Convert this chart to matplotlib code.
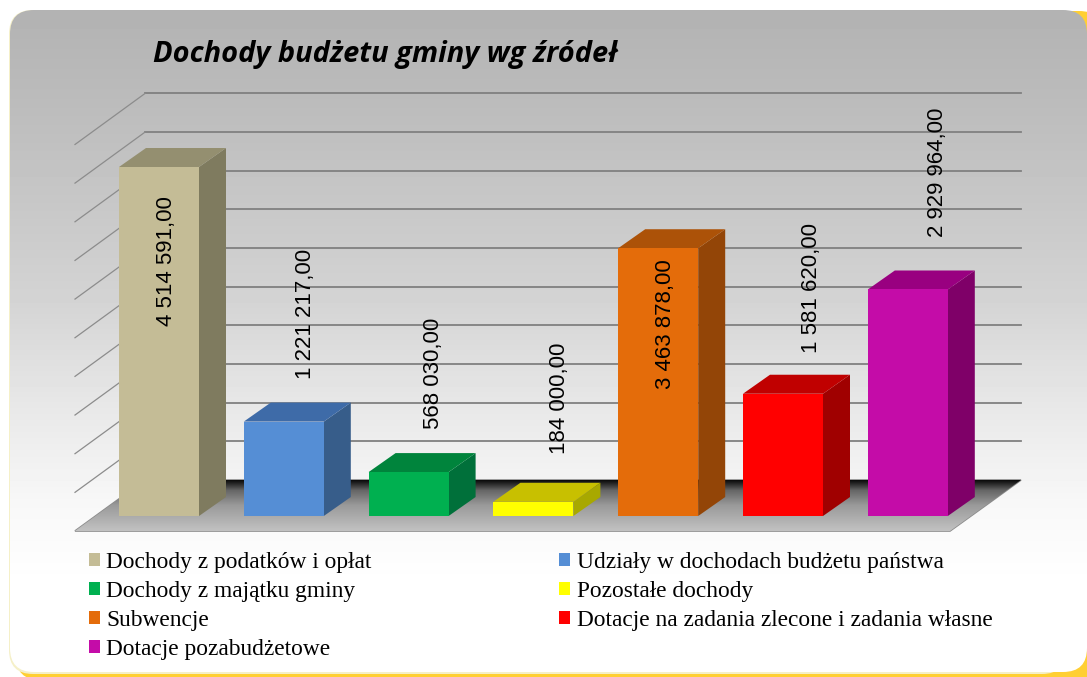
import matplotlib
matplotlib.use("Agg")
import matplotlib.pyplot as plt
from matplotlib.patches import FancyBboxPatch, Patch, Polygon
import numpy as np

# data
categories = ["Dochody z podatków i opłat", "Udziały w dochodach budżetu państwa",
              "Dochody z majątku gminy", "Pozostałe dochody", "Subwencje",
              "Dotacje na zadania zlecone i zadania własne", "Dotacje pozabudżetowe"]
values = [4514591, 1221217, 568030, 184000, 3463878, 1581620, 2929964]
value_labels = ["4 514 591,00", "1 221 217,00", "568 030,00", "184 000,00",
                "3 463 878,00", "1 581 620,00", "2 929 964,00"]
grid_values = [500000, 1000000, 1500000, 2000000, 2500000, 3000000,
               3500000, 4000000, 4500000, 5000000]
title = "Dochody budżetu gminy wg źródeł"

front_colors = ["#c4bc96", "#558ed5", "#00b050", "#ffff00", "#e46c0a", "#ff0000", "#c40ca8"]
top_colors = ["#948f70", "#3e6ba8", "#00843c", "#c8c000", "#ac5208", "#c00000", "#990080"]
side_colors = ["#7f7b5f", "#375d8a", "#00703a", "#a8a800", "#934507", "#a00000", "#7f0068"]

W, H = 1087, 677
PX_PER_UNIT = 349 / 4514591
SLOT = 124.8
FIRST_CENTER = 159
BASE_Y = 516

fig = plt.figure(figsize=(W / 100, H / 100), dpi=100)
fig.patch.set_facecolor("white")

# card and floor live in a pixel axes underneath
bg = fig.add_axes([0, 0, 1, 1])
bg.set_xlim(0, W)
bg.set_ylim(H, 0)
bg.axis("off")

edge = FancyBboxPatch((16, 11), W, H - 8, boxstyle="round,pad=0,rounding_size=24",
                      fc="#ffcf33", ec="none", zorder=1)
bg.add_patch(edge)
beige = FancyBboxPatch((9, 10), W - 30, H - 13, boxstyle="round,pad=0,rounding_size=24",
                       fc="#f5f0c8", ec="none", zorder=1.5)
bg.add_patch(beige)
card = FancyBboxPatch((10, 10), W - 10, H - 15, boxstyle="round,pad=0,rounding_size=24",
                      fc="none", ec="none", zorder=2)
bg.add_patch(card)
stops_y = [10, 100, 200, 300, 400, 500, 585, 677]
stops_v = [0.70, 0.735, 0.78, 0.83, 0.905, 0.97, 1.0, 1.0]
ramp = np.interp(np.arange(H), stops_y, stops_v).reshape(-1, 1)
im = bg.imshow(ramp, cmap="gray", vmin=0, vmax=1, extent=(0, W, H, 0), aspect="auto", zorder=2)
im.set_clip_path(card)

floor = Polygon([(75, 531), (950, 531), (1021, 480), (145, 480)], closed=True,
                fc="none", ec="#8c8c8c", lw=1.2, zorder=3)
bg.add_patch(floor)
floor_ramp = np.interp(np.arange(480, 532), [480, 483, 490, 505, 531], [0.05, 0.15, 0.4, 0.6, 0.76]).reshape(-1, 1)
fim = bg.imshow(floor_ramp, cmap="gray", vmin=0, vmax=1, extent=(0, W, 531, 480), aspect="auto", zorder=3)
fim.set_clip_path(floor)
bg.set_xlim(0, W)
bg.set_ylim(H, 0)

# main axes: x is category index, y is the value
ax = fig.add_axes([0, 0, 1, 1])
ax.patch.set_alpha(0)
ax.set_xlim(-FIRST_CENTER / SLOT, (W - FIRST_CENTER) / SLOT)
ax.set_ylim((BASE_Y - H) / PX_PER_UNIT, BASE_Y / PX_PER_UNIT)
ax.axis("off")

x = np.arange(len(values))
bar_w = 80 / SLOT
depth_x = 27 / SLOT
depth_y = 19 / PX_PER_UNIT

# back wall and left wall grid lines
back_off = (BASE_Y - 480) / PX_PER_UNIT
front_off = (BASE_Y - 531) / PX_PER_UNIT
left_front = (75 - FIRST_CENTER) / SLOT
left_back = (145 - FIRST_CENTER) / SLOT
right_back = (1021 - FIRST_CENTER) / SLOT
for g in grid_values:
    ax.plot([left_back, right_back], [g + back_off, g + back_off],
            color="#808080", lw=1.3, zorder=1)
    ax.plot([left_front, left_back], [g + front_off, g + back_off],
            color="#8c8c8c", lw=0.9, zorder=1)

ax.bar(x, values, width=bar_w, color=front_colors, zorder=4)
for i, v in enumerate(values):
    r = x[i] + bar_w / 2
    l = x[i] - bar_w / 2
    ax.fill([r, r + depth_x, r + depth_x, r], [0, depth_y, v + depth_y, v], color=side_colors[i], lw=0, zorder=3)
    ax.fill([l, r, r + depth_x, l + depth_x], [v, v, v + depth_y, v + depth_y], color=top_colors[i], lw=0, zorder=3)

# label centres were read off the picture, they don't follow one rule
label_centers = [261, 314, 373, 398, 324, 288, 172]
label_x = [166, 306, 434, 560, 665, 812, 938]
for lx, ly, txt in zip(label_x, label_centers, value_labels):
    ax.text((lx - FIRST_CENTER) / SLOT, (BASE_Y - ly) / PX_PER_UNIT, txt, rotation=90,
            ha="center", va="center", fontsize=16, family="Liberation Sans", color="black", zorder=6)

fig.text(153 / W, 1 - 62 / H, title, fontsize=20.9, family="Open Sans", style="italic",
         fontweight="bold", color="black", va="baseline", ha="left")

handles = [Patch(fc=c, ec="none") for c in front_colors]
order = [0, 2, 4, 6, 1, 3, 5]
ax.legend([handles[i] for i in order], [categories[i] for i in order], ncol=2,
          loc="upper left", bbox_to_anchor=(89 / W, 1 - 552 / H), bbox_transform=fig.transFigure,
          frameon=False, prop={"family": "Liberation Serif", "size": 16.8},
          handlelength=0.475, handleheight=0.475, handletextpad=0.26,
          labelspacing=0.34, columnspacing=8.05, borderpad=0, borderaxespad=0)

fig.savefig("out.png", dpi=100)
